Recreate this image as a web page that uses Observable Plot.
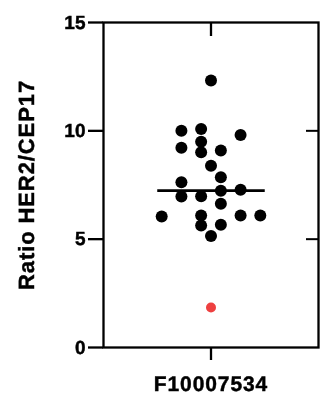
<!DOCTYPE html>
<html>
<head>
<meta charset="utf-8">
<script src="https://cdn.jsdelivr.net/npm/d3@7"></script>
<script src="https://cdn.jsdelivr.net/npm/@observablehq/plot@0.6"></script>
<style>
  html, body { margin: 0; padding: 0; background: #fff; }
  svg { display: block; text-rendering: geometricPrecision; }
  #chart { will-change: transform; }
</style>
</head>
<body>
<div id="chart"></div>
<script>
// ---- data ----
const category = "F10007534";
const yLabel = "Ratio HER2/CEP17";
const ratios = [12.32, 10.00, 10.09, 9.81, 9.50, 9.22, 9.01, 9.09, 8.39, 7.86, 7.63, 6.97, 6.98, 7.24, 7.28, 6.63, 6.05, 6.09, 6.09, 6.09, 5.63, 5.66, 5.15, 1.85];
// swarm slot of each point (side-by-side offset within the column)
const slots  = [0, -3, -1, 3, -1, -3, -1, 1, 0, 1, -3, -3, -1, 1, 3, 1, -5, -1, 3, 5, -1, 1, 0, 0];
const outlier = [false, false, false, false, false, false, false, false, false, false, false, false, false, false, false, false, false, false, false, false, false, false, false, true];
const medianValue = 7.24;
const medianSpan = [-5.4, 5.5];
const yTicks = [0, 5, 10, 15];
const yInnerTicks = [5, 10];

const points = ratios.map((v, i) => ({value: v, slot: slots[i], outlier: outlier[i]}));
const font = "'Liberation Sans', Arial, Helvetica, sans-serif";

const chart = Plot.plot({
  width: 320,
  height: 394,
  marginLeft: 103,
  marginRight: 2,
  marginTop: 22,
  marginBottom: 47,
  style: {fontFamily: font, fontWeight: "bold", fontSize: "19px", color: "#000", background: "#fff"},
  x: {domain: [-10.9, 10.9]},
  y: {domain: [0, 15]},
  marks: [
    Plot.frame({stroke: "#000", strokeWidth: 2.3}),
    Plot.axisY({anchor: "left", ticks: yTicks, tickSize: 15, tickPadding: 3, strokeWidth: 2.3, label: null, fontSize: 19, fontWeight: "bold", fill: "#000"}),
    Plot.axisY({anchor: "left", ticks: [], label: yLabel, labelAnchor: "center", labelArrow: "none", labelOffset: 85, fontSize: 22, fontWeight: "bold", fill: "#000"}),
    Plot.axisY({anchor: "right", ticks: yInnerTicks, tickSize: -13, tickFormat: () => "", strokeWidth: 2, label: null}),
    Plot.axisX({anchor: "bottom", ticks: [0], tickSize: 13, tickPadding: 16, strokeWidth: 2.3, tickFormat: () => category, label: null, fontSize: 21, fontWeight: "bold", fill: "#000"}),
    Plot.axisX({anchor: "top", ticks: [0], tickSize: -13, tickFormat: () => "", strokeWidth: 2.3, label: null}),
    Plot.ruleY([medianValue], {x1: medianSpan[0], x2: medianSpan[1], stroke: "#000", strokeWidth: 2.6}),
    Plot.dot(points.filter(d => !d.outlier), {x: "slot", y: "value", r: 6, fill: "#000", stroke: "none"}),
    Plot.dot(points.filter(d => d.outlier), {x: "slot", y: "value", r: 5, fill: "#ee4040", stroke: "none"})
  ]
});
const svg = d3.select(chart);
// heavy black text, as in the reference
svg.selectAll("text")
  .style("font-family", font).style("font-weight", "700")
  .style("fill", "#000").style("stroke", "#000").style("stroke-width", "0.45px");
// slightly wider letter spacing for the two axis titles, as in the reference
svg.selectAll("text").filter(function () {
  const t = this.textContent;
  return t === yLabel || t === category;
}).style("letter-spacing", "0.9px");
document.getElementById("chart").appendChild(chart);
</script>
</body>
</html>
